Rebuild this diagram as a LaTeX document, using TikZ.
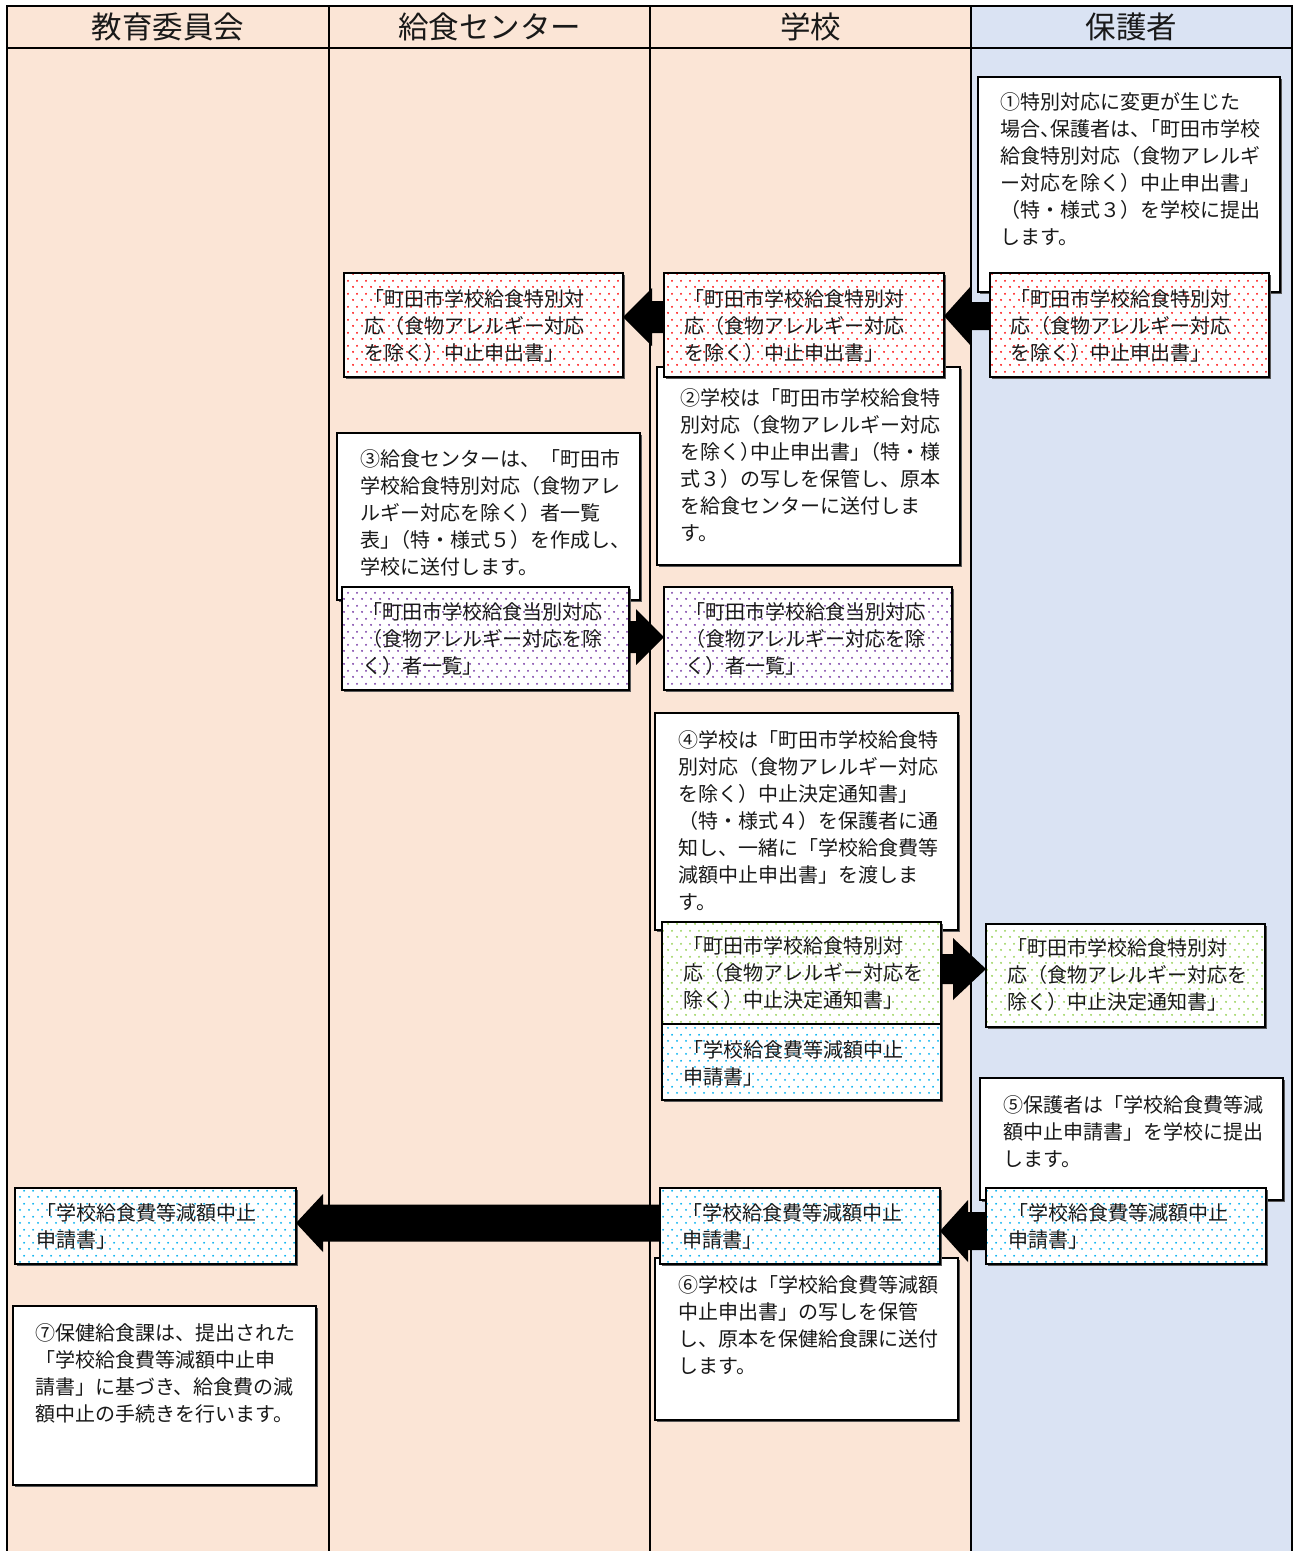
\documentclass[tikz,border=0pt]{standalone}
\usepackage{fontspec}
\setmainfont{Noto Sans CJK JP}
\usetikzlibrary{calc,patterns.meta,shadows}
\definecolor{peach}{HTML}{FBE5D6}
\definecolor{lblue}{HTML}{DAE3F3}
\definecolor{dred}{HTML}{FF0000}
\definecolor{dpurple}{HTML}{7030A0}
\definecolor{dgreen}{HTML}{92D050}
\definecolor{dblue}{HTML}{00B0F0}
\tikzdeclarepattern{
  name=stagdots,
  type=uncolored,
  bounding box={(0pt,0pt) and (9pt,13pt)},
  tile size={(9pt,13pt)},
  code={
    \pgfpathcircle{\pgfpoint{2.25pt}{3.25pt}}{1.1pt}
    \pgfpathcircle{\pgfpoint{6.75pt}{9.75pt}}{1.1pt}
    \pgfusepath{fill}
  }
}
\newcommand\jk{\kern-10pt}
\newcommand\blkarrow[5]{%
  \fill[black] let \p1=(#1), \p2=(#2) in
    (\p1) -- (\x1+#3,\y1+#4) -- (\x1+#3,\y1+#5) -- (\x2,\y1+#5)
    -- (\x2,\y1-#5) -- (\x1+#3,\y1-#5) -- (\x1+#3,\y1-#4) -- cycle;}
\begin{document}
\begin{tikzpicture}[x=1pt,y=-1pt,
  lane/.style={draw=black, line width=1.8pt},
  shad/.style={general shadow={fill=black!65, shadow xshift=1.5pt, shadow yshift=-1.5pt}},
  wbox/.style={shad, draw=black, line width=2.6pt, fill=white, outer sep=0pt, inner sep=0pt, anchor=north west},
  pbox/.style={shad, fill=white, line width=2.6pt, postaction={pattern=stagdots, pattern color=#1}, postaction={draw=black, line width=2.6pt}, outer sep=0pt, inner sep=0pt, anchor=north west},
  txt/.style={anchor=north west, inner sep=0pt, align=left, font=\fontsize{20}{27}\selectfont, text=black!90, execute at begin node={\rule{0pt}{18pt}}},
  headtxt/.style={font=\fontsize{30.5}{33}\selectfont, text=black!90, inner sep=0pt}
]
\useasboundingbox (0,0) rectangle (1293,1551);
% lanes
\fill[peach] (7,6) rectangle (971,1551);
\fill[lblue] (971,6) rectangle (1292,1551);
\draw[lane] (7,1551) -- (7,6) -- (1292,6) -- (1292,1551);
\draw[lane] (7,48) -- (1292,48);
\draw[lane] (329,6) -- (329,1551);
\draw[lane] (650,6) -- (650,1551);
\draw[lane] (971,6) -- (971,1551);
% headers
\node[headtxt] (h1) at (168,27) {教育委員会};
\node[headtxt] (h2) at (489.5,27) {給食センター};
\node[headtxt] (h3) at (810.5,27) {学校};
\node[headtxt] (h4) at (1131.5,27) {保護者};
% white boxes
\node[wbox, minimum width=302pt, minimum height=215pt] (b1) at (978,77) {};
\node[wbox, minimum width=303pt, minimum height=198pt] (b2) at (657,367) {};
\node[wbox, minimum width=303pt, minimum height=167pt] (b3) at (337,433) {};
\node[wbox, minimum width=303pt, minimum height=217pt] (b4) at (655,713) {};
\node[wbox, minimum width=303pt, minimum height=122pt] (b5) at (980,1078) {};
\node[wbox, minimum width=303pt, minimum height=162pt] (b6) at (655,1258) {};
\node[wbox, minimum width=303pt, minimum height=179pt] (b7) at (13,1306) {};
\node[txt] (t1) at (1000,92) {①特別対応に変更が生じた\\場合、\jk 保護者は、\jk「町田市学校\\給食特別対応（食物アレルギ\\ー対応を除く）中止申出書」\\（特・様式３）を学校に提出\\します。};
\node[txt] (t2) at (680,388) {②学校は「町田市学校給食特\\別対応（食物アレルギー対応\\を除く）\jk 中止申出書」\jk（特・様\\式３）の写しを保管し、原本\\を給食センターに送付しま\\す。};
\node[txt] (t3) at (360,449) {③給食センターは、「町田市\\学校給食特別対応（食物アレ\\ルギー対応を除く）者一覧\\表」\jk（特・様式５）を作成し、\\学校に送付します。};
\node[txt] (t4) at (678,730) {④学校は「町田市学校給食特\\別対応（食物アレルギー対応\\を除く）中止決定通知書」\\（特・様式４）を保護者に通\\知し、一緒に「学校給食費等\\減額中止申出書」を渡しま\\す。};
\node[txt] (t5) at (1003,1095) {⑤保護者は「学校給食費等減\\額中止申請書」を学校に提出\\します。};
\node[txt] (t6) at (678,1275) {⑥学校は「学校給食費等減額\\中止申出書」の写しを保管\\し、原本を保健給食課に送付\\します。};
\node[txt] (t7) at (35,1323) {⑦保健給食課は、提出された\\「学校給食費等減額中止申\\請書」に基づき、給食費の減\\額中止の手続きを行います。};
% patterned boxes
\node[pbox=dred, minimum width=279pt, minimum height=104pt] (R1) at (344,273) {};
\node[pbox=dred, minimum width=280pt, minimum height=104pt] (R2) at (664,273) {};
\node[pbox=dred, minimum width=279pt, minimum height=104pt] (R3) at (990,273) {};
\node[txt] (tR1) at (364,289) {「町田市学校給食特別対\\応（食物アレルギー対応\\を除く）中止申出書」};
\node[txt] (tR2) at (684,289) {「町田市学校給食特別対\\応（食物アレルギー対応\\を除く）中止申出書」};
\node[txt] (tR3) at (1010,289) {「町田市学校給食特別対\\応（食物アレルギー対応\\を除く）中止申出書」};
\node[pbox=dpurple, minimum width=287pt, minimum height=103pt] (P1) at (342,587) {};
\node[pbox=dpurple, minimum width=288pt, minimum height=103pt] (P2) at (664,587) {};
\node[txt] (tP1) at (362,602) {「町田市学校給食当別対応\\（食物アレルギー対応を除\\く）者一覧」};
\node[txt] (tP2) at (685,602) {「町田市学校給食当別対応\\（食物アレルギー対応を除\\く）者一覧」};
\node[pbox=dgreen, minimum width=279pt, minimum height=102pt] (G1) at (662,922) {};
\node[pbox=dblue, minimum width=279pt, minimum height=76pt] (B1) at (662,1024) {};
\node[pbox=dgreen, minimum width=279pt, minimum height=103pt] (G2) at (986,924) {};
\node[txt] (tG1) at (683,936) {「町田市学校給食特別対\\応（食物アレルギー対応を\\除く）中止決定通知書」};
\node[txt] (tB1) at (683,1040) {「学校給食費等減額中止\\申請書」};
\node[txt] (tG2) at (1007,938) {「町田市学校給食特別対\\応（食物アレルギー対応を\\除く）中止決定通知書」};
\node[pbox=dblue, minimum width=280pt, minimum height=76pt] (B3) at (986,1188) {};
\node[pbox=dblue, minimum width=280pt, minimum height=76pt] (B2) at (660,1188) {};
\node[pbox=dblue, minimum width=281pt, minimum height=76pt] (B0) at (15,1188) {};
\node[txt] (tB3) at (1008,1203) {「学校給食費等減額中止\\申請書」};
\node[txt] (tB2) at (682,1203) {「学校給食費等減額中止\\申請書」};
\node[txt] (tB0) at (36,1203) {「学校給食費等減額中止\\申請書」};
% arrows
\blkarrow{$(R2.east)+(0,-9)$}{R3.west}{27pt}{30pt}{14pt}
\blkarrow{$(R1.east)+(0,-8)$}{R2.west}{29pt}{29pt}{16pt}
\blkarrow{$(P2.west)+(0,-1.5)$}{P1.east}{-28pt}{28pt}{16pt}
\blkarrow{$(G2.west)+(0,-6.5)$}{G1.east}{-33pt}{31pt}{15pt}
\blkarrow{$(B2.east)+(0,5)$}{B3.west}{28pt}{31pt}{19pt}
\blkarrow{$(B0.east)+(0,-3)$}{B2.west}{27pt}{29pt}{18.5pt}
\end{tikzpicture}
\end{document}
